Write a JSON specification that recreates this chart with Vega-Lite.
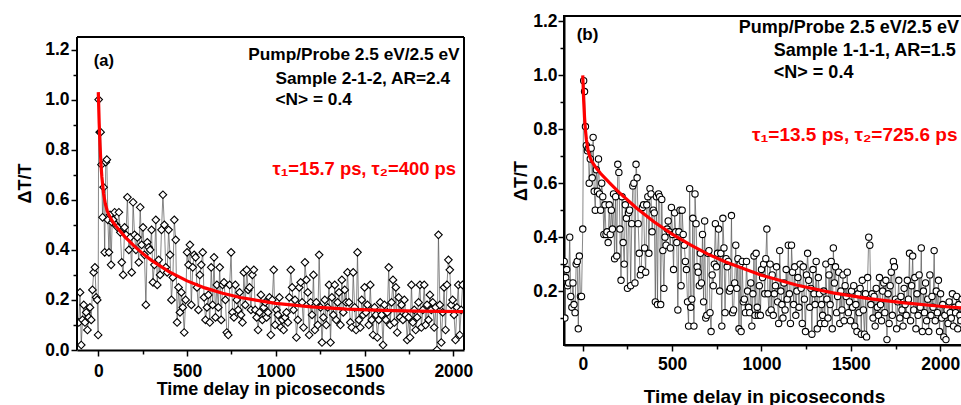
{
"$schema": "https://vega.github.io/schema/vega-lite/v6.json",
"padding": {"left": 16, "top": 11, "right": 0, "bottom": 0},
"spacing": 38,
"config": {
  "font": "Liberation Sans",
  "view": {"stroke": "#000", "strokeWidth": 2},
  "axis": {"domainColor": "#000", "domainWidth": 2, "tickColor": "#000", "tickWidth": 1.5, "labelFont": "Liberation Sans", "labelFontWeight": "bold", "labelFontSize": 17.5, "labelColor": "#000", "titleFont": "Liberation Sans", "titleFontWeight": "bold", "titleFontSize": 18, "titleColor": "#000", "grid": false, "labelFlush": false, "labelOverlap": false},
  "text": {"font": "Liberation Sans", "fontWeight": "bold"}
},
"datasets": {
  "a": [
{"t":-110,"v":0.11},{"t":-103,"v":0.23},{"t":-96,"v":0.02},{"t":-89,"v":0.12},{"t":-82,"v":0.18},{"t":-75,"v":0.11},{"t":-68,"v":0.15},{"t":-61,"v":0.08},{"t":-54,"v":0.13},{"t":-47,"v":0.17},{"t":-40,"v":0.12},{"t":-33,"v":0.24},{"t":-26,"v":0.31},{"t":-19,"v":0.33},{"t":-12,"v":0.21},{"t":-6,"v":0.20},{"t":-1,"v":0.06},{"t":2,"v":1.00},{"t":8,"v":0.87},{"t":13,"v":0.87},{"t":18,"v":0.74},{"t":24,"v":0.53},{"t":30,"v":0.65},{"t":36,"v":0.39},{"t":42,"v":0.75},{"t":48,"v":0.76},{"t":54,"v":0.52},{"t":60,"v":0.39},{"t":66,"v":0.54},{"t":72,"v":0.34},{"t":78,"v":0.51},{"t":84,"v":0.52},{"t":92,"v":0.55},{"t":100,"v":0.50},{"t":108,"v":0.49},{"t":116,"v":0.55},{"t":124,"v":0.47},{"t":132,"v":0.35},{"t":140,"v":0.30},{"t":148,"v":0.49},{"t":156,"v":0.46},{"t":164,"v":0.61},{"t":172,"v":0.40},{"t":180,"v":0.45},{"t":188,"v":0.31},{"t":196,"v":0.59},{"t":204,"v":0.46},{"t":212,"v":0.40},{"t":220,"v":0.45},{"t":228,"v":0.35},{"t":236,"v":0.57},{"t":244,"v":0.42},{"t":252,"v":0.49},{"t":260,"v":0.38},{"t":268,"v":0.18},{"t":276,"v":0.43},{"t":284,"v":0.41},{"t":292,"v":0.40},{"t":300,"v":0.48},{"t":308,"v":0.27},{"t":316,"v":0.34},{"t":324,"v":0.52},{"t":332,"v":0.26},{"t":340,"v":0.36},{"t":348,"v":0.30},{"t":356,"v":0.48},{"t":364,"v":0.62},{"t":372,"v":0.50},{"t":380,"v":0.33},{"t":388,"v":0.31},{"t":396,"v":0.48},{"t":404,"v":0.38},{"t":412,"v":0.20},{"t":420,"v":0.29},{"t":428,"v":0.52},{"t":436,"v":0.44},{"t":444,"v":0.11},{"t":452,"v":0.25},{"t":460,"v":0.15},{"t":468,"v":0.23},{"t":476,"v":0.17},{"t":484,"v":0.07},{"t":492,"v":0.20},{"t":500,"v":0.39},{"t":508,"v":0.34},{"t":516,"v":0.42},{"t":524,"v":0.18},{"t":532,"v":0.33},{"t":540,"v":0.38},{"t":548,"v":0.37},{"t":556,"v":0.25},{"t":564,"v":0.16},{"t":572,"v":0.30},{"t":580,"v":0.34},{"t":588,"v":0.39},{"t":596,"v":0.21},{"t":604,"v":0.12},{"t":612,"v":0.17},{"t":620,"v":0.22},{"t":628,"v":0.11},{"t":636,"v":0.33},{"t":644,"v":0.18},{"t":652,"v":0.37},{"t":660,"v":0.13},{"t":668,"v":0.26},{"t":676,"v":0.17},{"t":684,"v":0.33},{"t":692,"v":0.12},{"t":700,"v":0.26},{"t":708,"v":0.27},{"t":716,"v":0.20},{"t":724,"v":0.07},{"t":732,"v":0.06},{"t":740,"v":0.26},{"t":748,"v":0.39},{"t":756,"v":0.15},{"t":764,"v":0.13},{"t":772,"v":0.26},{"t":780,"v":0.20},{"t":788,"v":0.16},{"t":796,"v":0.23},{"t":804,"v":0.14},{"t":812,"v":0.11},{"t":820,"v":0.31},{"t":828,"v":0.18},{"t":836,"v":0.32},{"t":844,"v":0.24},{"t":852,"v":0.25},{"t":860,"v":0.16},{"t":868,"v":0.30},{"t":876,"v":0.32},{"t":884,"v":0.16},{"t":892,"v":0.13},{"t":900,"v":0.08},{"t":908,"v":0.15},{"t":916,"v":0.22},{"t":924,"v":0.12},{"t":932,"v":0.17},{"t":940,"v":0.19},{"t":948,"v":0.13},{"t":956,"v":0.15},{"t":964,"v":0.21},{"t":972,"v":0.06},{"t":980,"v":0.20},{"t":988,"v":0.32},{"t":996,"v":0.10},{"t":1004,"v":0.16},{"t":1012,"v":0.14},{"t":1020,"v":0.21},{"t":1028,"v":0.09},{"t":1036,"v":0.12},{"t":1044,"v":0.08},{"t":1052,"v":0.13},{"t":1060,"v":0.15},{"t":1068,"v":0.11},{"t":1076,"v":0.21},{"t":1084,"v":0.32},{"t":1092,"v":0.25},{"t":1100,"v":0.16},{"t":1108,"v":0.20},{"t":1116,"v":0.05},{"t":1124,"v":0.12},{"t":1132,"v":0.25},{"t":1140,"v":0.27},{"t":1148,"v":0.19},{"t":1156,"v":0.09},{"t":1164,"v":0.35},{"t":1172,"v":0.28},{"t":1180,"v":0.23},{"t":1188,"v":0.06},{"t":1196,"v":0.19},{"t":1204,"v":0.14},{"t":1212,"v":0.30},{"t":1220,"v":0.08},{"t":1228,"v":0.19},{"t":1236,"v":0.10},{"t":1244,"v":0.38},{"t":1252,"v":0.17},{"t":1260,"v":0.03},{"t":1268,"v":0.13},{"t":1276,"v":0.20},{"t":1284,"v":0.10},{"t":1292,"v":0.17},{"t":1300,"v":0.26},{"t":1308,"v":0.03},{"t":1316,"v":0.21},{"t":1324,"v":0.14},{"t":1332,"v":0.26},{"t":1340,"v":0.12},{"t":1348,"v":0.19},{"t":1356,"v":0.23},{"t":1364,"v":0.10},{"t":1372,"v":0.28},{"t":1380,"v":0.15},{"t":1388,"v":0.24},{"t":1396,"v":0.19},{"t":1404,"v":0.31},{"t":1412,"v":0.19},{"t":1420,"v":0.11},{"t":1428,"v":0.09},{"t":1436,"v":0.31},{"t":1444,"v":0.17},{"t":1452,"v":0.08},{"t":1460,"v":0.39},{"t":1468,"v":0.12},{"t":1476,"v":0.09},{"t":1484,"v":0.20},{"t":1492,"v":0.14},{"t":1500,"v":0.25},{"t":1508,"v":0.15},{"t":1516,"v":0.18},{"t":1524,"v":0.10},{"t":1532,"v":0.26},{"t":1540,"v":0.12},{"t":1548,"v":0.06},{"t":1556,"v":0.17},{"t":1564,"v":0.14},{"t":1572,"v":0.05},{"t":1580,"v":0.12},{"t":1588,"v":0.19},{"t":1596,"v":0.14},{"t":1604,"v":0.02},{"t":1612,"v":0.18},{"t":1620,"v":0.12},{"t":1628,"v":0.15},{"t":1636,"v":0.33},{"t":1644,"v":0.10},{"t":1652,"v":0.19},{"t":1660,"v":0.28},{"t":1668,"v":0.11},{"t":1676,"v":0.25},{"t":1684,"v":0.07},{"t":1692,"v":0.21},{"t":1700,"v":0.13},{"t":1708,"v":0.18},{"t":1716,"v":0.12},{"t":1724,"v":0.20},{"t":1732,"v":0.14},{"t":1740,"v":0.04},{"t":1748,"v":0.13},{"t":1756,"v":0.05},{"t":1764,"v":0.26},{"t":1772,"v":0.11},{"t":1780,"v":0.16},{"t":1788,"v":0.08},{"t":1796,"v":0.13},{"t":1804,"v":0.19},{"t":1812,"v":0.26},{"t":1820,"v":0.09},{"t":1828,"v":0.16},{"t":1836,"v":0.26},{"t":1844,"v":0.10},{"t":1852,"v":0.18},{"t":1860,"v":0.12},{"t":1868,"v":0.22},{"t":1876,"v":0.16},{"t":1884,"v":0.19},{"t":1892,"v":0.09},{"t":1900,"v":0.17},{"t":1908,"v":0.00},{"t":1916,"v":0.46},{"t":1924,"v":0.18},{"t":1932,"v":0.03},{"t":1940,"v":0.15},{"t":1948,"v":0.25},{"t":1956,"v":0.08},{"t":1964,"v":0.26},{"t":1972,"v":0.36},{"t":1980,"v":0.32},{"t":1988,"v":0.18},{"t":1996,"v":0.20},{"t":2004,"v":0.14},{"t":2012,"v":0.04},{"t":2020,"v":0.17},{"t":2028,"v":0.26},{"t":2036,"v":0.06},{"t":2044,"v":0.16},{"t":2052,"v":0.26}
  ],
  "afit": [
{"t":0,"v":1.03},{"t":5,"v":0.905},{"t":10,"v":0.812},{"t":15,"v":0.743},{"t":20,"v":0.691},{"t":30,"v":0.623},{"t":40,"v":0.582},{"t":50,"v":0.556},{"t":60,"v":0.539},{"t":80,"v":0.513},{"t":100,"v":0.494},{"t":150,"v":0.452},{"t":200,"v":0.417},{"t":250,"v":0.385},{"t":300,"v":0.358},{"t":400,"v":0.312},{"t":500,"v":0.276},{"t":600,"v":0.248},{"t":700,"v":0.2265},{"t":800,"v":0.2095},{"t":1000,"v":0.186},{"t":1200,"v":0.172},{"t":1400,"v":0.163},{"t":1600,"v":0.158},{"t":1800,"v":0.155},{"t":2060,"v":0.153}
  ],
  "b": [
{"t":-104,"v":0.31},{"t":-100,"v":0.10},{"t":-95,"v":0.25},{"t":-90,"v":0.28},{"t":-85,"v":0.22},{"t":-79,"v":0.23},{"t":-73,"v":0.40},{"t":-67,"v":0.18},{"t":-61,"v":0.14},{"t":-55,"v":0.23},{"t":-49,"v":0.15},{"t":-43,"v":0.12},{"t":-37,"v":0.30},{"t":-31,"v":0.31},{"t":-25,"v":0.06},{"t":-19,"v":0.33},{"t":-13,"v":0.18},{"t":-7,"v":0.18},{"t":0,"v":0.43},{"t":5,"v":0.98},{"t":10,"v":0.94},{"t":15,"v":0.81},{"t":20,"v":0.74},{"t":26,"v":0.72},{"t":31,"v":0.73},{"t":36,"v":0.60},{"t":42,"v":0.69},{"t":47,"v":0.73},{"t":53,"v":0.62},{"t":58,"v":0.77},{"t":64,"v":0.57},{"t":70,"v":0.50},{"t":76,"v":0.65},{"t":82,"v":0.57},{"t":88,"v":0.69},{"t":94,"v":0.56},{"t":100,"v":0.50},{"t":106,"v":0.60},{"t":112,"v":0.55},{"t":118,"v":0.41},{"t":124,"v":0.52},{"t":130,"v":0.41},{"t":136,"v":0.42},{"t":142,"v":0.38},{"t":148,"v":0.52},{"t":154,"v":0.41},{"t":160,"v":0.50},{"t":166,"v":0.43},{"t":172,"v":0.56},{"t":178,"v":0.32},{"t":184,"v":0.55},{"t":190,"v":0.33},{"t":196,"v":0.67},{"t":202,"v":0.64},{"t":208,"v":0.43},{"t":214,"v":0.24},{"t":220,"v":0.55},{"t":226,"v":0.38},{"t":232,"v":0.30},{"t":238,"v":0.52},{"t":244,"v":0.47},{"t":250,"v":0.21},{"t":256,"v":0.49},{"t":262,"v":0.50},{"t":268,"v":0.22},{"t":274,"v":0.45},{"t":280,"v":0.59},{"t":286,"v":0.60},{"t":292,"v":0.23},{"t":298,"v":0.67},{"t":304,"v":0.62},{"t":310,"v":0.45},{"t":316,"v":0.34},{"t":322,"v":0.26},{"t":328,"v":0.28},{"t":334,"v":0.51},{"t":340,"v":0.52},{"t":346,"v":0.36},{"t":352,"v":0.27},{"t":358,"v":0.52},{"t":364,"v":0.55},{"t":370,"v":0.34},{"t":376,"v":0.58},{"t":382,"v":0.56},{"t":388,"v":0.42},{"t":394,"v":0.50},{"t":400,"v":0.49},{"t":406,"v":0.16},{"t":412,"v":0.55},{"t":418,"v":0.15},{"t":424,"v":0.56},{"t":430,"v":0.55},{"t":436,"v":0.15},{"t":442,"v":0.54},{"t":448,"v":0.35},{"t":454,"v":0.21},{"t":460,"v":0.40},{"t":466,"v":0.37},{"t":472,"v":0.43},{"t":478,"v":0.46},{"t":484,"v":0.42},{"t":490,"v":0.36},{"t":496,"v":0.51},{"t":502,"v":0.41},{"t":508,"v":0.28},{"t":514,"v":0.49},{"t":520,"v":0.42},{"t":526,"v":0.38},{"t":532,"v":0.13},{"t":538,"v":0.42},{"t":544,"v":0.50},{"t":550,"v":0.22},{"t":556,"v":0.50},{"t":562,"v":0.41},{"t":568,"v":0.37},{"t":574,"v":0.31},{"t":580,"v":0.28},{"t":586,"v":0.16},{"t":592,"v":0.07},{"t":598,"v":0.58},{"t":604,"v":0.14},{"t":610,"v":0.17},{"t":616,"v":0.47},{"t":622,"v":0.07},{"t":628,"v":0.56},{"t":634,"v":0.45},{"t":640,"v":0.29},{"t":646,"v":0.27},{"t":652,"v":0.22},{"t":658,"v":0.34},{"t":664,"v":0.23},{"t":670,"v":0.41},{"t":676,"v":0.16},{"t":682,"v":0.46},{"t":688,"v":0.10},{"t":694,"v":0.11},{"t":700,"v":0.34},{"t":706,"v":0.35},{"t":712,"v":0.12},{"t":718,"v":0.05},{"t":724,"v":0.26},{"t":730,"v":0.22},{"t":736,"v":0.30},{"t":742,"v":0.45},{"t":748,"v":0.29},{"t":754,"v":0.34},{"t":760,"v":0.43},{"t":766,"v":0.20},{"t":772,"v":0.34},{"t":778,"v":0.07},{"t":784,"v":0.47},{"t":790,"v":0.36},{"t":796,"v":0.12},{"t":802,"v":0.32},{"t":808,"v":0.29},{"t":814,"v":0.31},{"t":820,"v":0.20},{"t":826,"v":0.21},{"t":832,"v":0.48},{"t":838,"v":0.12},{"t":844,"v":0.13},{"t":850,"v":0.23},{"t":856,"v":0.37},{"t":862,"v":0.21},{"t":868,"v":0.32},{"t":874,"v":0.06},{"t":880,"v":0.30},{"t":886,"v":0.05},{"t":892,"v":0.31},{"t":898,"v":0.16},{"t":904,"v":0.17},{"t":910,"v":0.12},{"t":916,"v":0.31},{"t":922,"v":0.20},{"t":928,"v":0.14},{"t":934,"v":0.12},{"t":940,"v":0.23},{"t":946,"v":0.07},{"t":952,"v":0.19},{"t":958,"v":0.33},{"t":964,"v":0.11},{"t":970,"v":0.34},{"t":976,"v":0.14},{"t":982,"v":0.11},{"t":988,"v":0.22},{"t":994,"v":0.11},{"t":1000,"v":0.28},{"t":1006,"v":0.25},{"t":1012,"v":0.30},{"t":1018,"v":0.19},{"t":1024,"v":0.32},{"t":1030,"v":0.43},{"t":1036,"v":0.19},{"t":1042,"v":0.12},{"t":1048,"v":0.30},{"t":1054,"v":0.13},{"t":1060,"v":0.26},{"t":1066,"v":0.11},{"t":1072,"v":0.19},{"t":1078,"v":0.22},{"t":1084,"v":0.29},{"t":1090,"v":0.16},{"t":1096,"v":0.08},{"t":1102,"v":0.35},{"t":1108,"v":0.20},{"t":1114,"v":0.15},{"t":1120,"v":0.10},{"t":1126,"v":0.23},{"t":1132,"v":0.13},{"t":1138,"v":0.28},{"t":1144,"v":0.17},{"t":1150,"v":0.37},{"t":1156,"v":0.19},{"t":1162,"v":0.08},{"t":1168,"v":0.37},{"t":1174,"v":0.27},{"t":1180,"v":0.15},{"t":1186,"v":0.29},{"t":1192,"v":0.11},{"t":1198,"v":0.20},{"t":1204,"v":0.25},{"t":1210,"v":0.14},{"t":1216,"v":0.30},{"t":1222,"v":0.21},{"t":1228,"v":0.08},{"t":1234,"v":0.29},{"t":1240,"v":0.17},{"t":1246,"v":0.05},{"t":1252,"v":0.26},{"t":1258,"v":0.34},{"t":1264,"v":0.24},{"t":1270,"v":0.14},{"t":1276,"v":0.21},{"t":1282,"v":0.04},{"t":1288,"v":0.28},{"t":1294,"v":0.19},{"t":1300,"v":0.15},{"t":1306,"v":0.31},{"t":1312,"v":0.06},{"t":1318,"v":0.25},{"t":1324,"v":0.19},{"t":1330,"v":0.08},{"t":1336,"v":0.15},{"t":1342,"v":0.11},{"t":1348,"v":0.20},{"t":1354,"v":0.08},{"t":1360,"v":0.30},{"t":1366,"v":0.17},{"t":1372,"v":0.10},{"t":1378,"v":0.26},{"t":1384,"v":0.15},{"t":1390,"v":0.31},{"t":1396,"v":0.06},{"t":1402,"v":0.36},{"t":1408,"v":0.23},{"t":1414,"v":0.29},{"t":1420,"v":0.12},{"t":1426,"v":0.18},{"t":1432,"v":0.27},{"t":1438,"v":0.08},{"t":1444,"v":0.20},{"t":1450,"v":0.13},{"t":1456,"v":0.26},{"t":1462,"v":0.09},{"t":1468,"v":0.22},{"t":1474,"v":0.18},{"t":1480,"v":0.27},{"t":1486,"v":0.12},{"t":1492,"v":0.16},{"t":1498,"v":0.09},{"t":1504,"v":0.20},{"t":1510,"v":0.14},{"t":1516,"v":0.22},{"t":1522,"v":0.07},{"t":1528,"v":0.15},{"t":1534,"v":0.05},{"t":1540,"v":0.19},{"t":1546,"v":0.12},{"t":1552,"v":0.21},{"t":1558,"v":0.04},{"t":1564,"v":0.24},{"t":1570,"v":0.13},{"t":1576,"v":0.04},{"t":1582,"v":0.19},{"t":1588,"v":0.03},{"t":1594,"v":0.25},{"t":1600,"v":0.40},{"t":1606,"v":0.37},{"t":1612,"v":0.15},{"t":1618,"v":0.19},{"t":1624,"v":0.10},{"t":1630,"v":0.18},{"t":1636,"v":0.07},{"t":1642,"v":0.21},{"t":1648,"v":0.14},{"t":1654,"v":0.11},{"t":1660,"v":0.25},{"t":1666,"v":0.15},{"t":1672,"v":0.09},{"t":1678,"v":0.20},{"t":1684,"v":0.23},{"t":1690,"v":0.12},{"t":1696,"v":0.24},{"t":1702,"v":0.02},{"t":1708,"v":0.19},{"t":1714,"v":0.08},{"t":1720,"v":0.22},{"t":1726,"v":0.27},{"t":1732,"v":0.11},{"t":1738,"v":0.31},{"t":1744,"v":0.29},{"t":1750,"v":0.17},{"t":1756,"v":0.06},{"t":1762,"v":0.16},{"t":1768,"v":0.24},{"t":1774,"v":0.10},{"t":1780,"v":0.18},{"t":1786,"v":0.13},{"t":1792,"v":0.07},{"t":1798,"v":0.21},{"t":1804,"v":0.15},{"t":1810,"v":0.11},{"t":1816,"v":0.24},{"t":1822,"v":0.17},{"t":1828,"v":0.34},{"t":1834,"v":0.09},{"t":1840,"v":0.22},{"t":1846,"v":0.33},{"t":1852,"v":0.13},{"t":1858,"v":0.25},{"t":1864,"v":0.06},{"t":1870,"v":0.19},{"t":1876,"v":0.11},{"t":1882,"v":0.26},{"t":1888,"v":0.14},{"t":1894,"v":0.36},{"t":1900,"v":0.05},{"t":1906,"v":0.20},{"t":1912,"v":0.12},{"t":1918,"v":0.23},{"t":1924,"v":0.09},{"t":1930,"v":0.17},{"t":1936,"v":0.05},{"t":1942,"v":0.26},{"t":1948,"v":0.11},{"t":1954,"v":0.18},{"t":1960,"v":0.14},{"t":1966,"v":0.35},{"t":1972,"v":0.09},{"t":1978,"v":0.20},{"t":1984,"v":0.12},{"t":1990,"v":0.24},{"t":1996,"v":0.05},{"t":2002,"v":0.19},{"t":2008,"v":0.10},{"t":2014,"v":0.15},{"t":2020,"v":0.03},{"t":2026,"v":0.11},{"t":2032,"v":0.02},{"t":2038,"v":0.13},{"t":2044,"v":0.08},{"t":2050,"v":0.16},{"t":2056,"v":0.12},{"t":2062,"v":0.10},{"t":2068,"v":0.19},{"t":2074,"v":0.07},{"t":2080,"v":0.14},{"t":2086,"v":0.12},{"t":2092,"v":0.18},{"t":2098,"v":0.06},{"t":2104,"v":0.15},{"t":2110,"v":0.11},{"t":2116,"v":0.09},{"t":2122,"v":0.17},{"t":2128,"v":0.13}
  ],
  "bfit": [
{"t":0,"v":1.0},{"t":5,"v":0.908},{"t":10,"v":0.843},{"t":15,"v":0.797},{"t":20,"v":0.763},{"t":30,"v":0.721},{"t":40,"v":0.697},{"t":50,"v":0.681},{"t":70,"v":0.661},{"t":100,"v":0.636},{"t":150,"v":0.601},{"t":200,"v":0.568},{"t":300,"v":0.508},{"t":400,"v":0.456},{"t":500,"v":0.411},{"t":600,"v":0.372},{"t":700,"v":0.337},{"t":800,"v":0.3075},{"t":1000,"v":0.259},{"t":1200,"v":0.2215},{"t":1400,"v":0.1935},{"t":1600,"v":0.172},{"t":1800,"v":0.156},{"t":2000,"v":0.1437},{"t":2133,"v":0.137}
  ]
},
"hconcat": [
  {
    "width": 387, "height": 334,
    "view": {"stroke": null},
    "encoding": {
      "x": {"type": "quantitative", "scale": {"domain": [-120, 2060], "nice": false, "zero": false},
        "axis": {"title": "Time delay in picoseconds", "values": [0,250,500,750,1000,1250,1500,1750,2000], "format": "d",
          "labelExpr": "datum.value % 500 == 0 ? datum.label : ''",
          "tickSize": {"condition": {"test": "datum.value % 500 != 0", "value": 4}, "value": 6},
          "labelPadding": 6, "titlePadding": 1}},
      "y": {"type": "quantitative", "scale": {"domain": [0, 1.3339], "nice": false, "zero": false},
        "axis": {"title": "ΔT/T", "domain": false, "values": [0,0.1,0.2,0.3,0.4,0.5,0.6,0.7,0.8,0.9,1.0,1.1,1.2], "format": ".1f",
          "labelExpr": "round(datum.value*10) % 2 == 1 ? '' : datum.label",
          "tickSize": {"condition": {"test": "round(datum.value*10) % 2 == 1", "value": 4}, "value": 6},
          "labelPadding": 2, "titlePadding": 10}}
    },
    "layer": [
      {"data": {"name": "a"}, "mark": {"type": "line", "color": "#555", "strokeWidth": 0.7, "clip": true},
       "encoding": {"x": {"field": "t"}, "y": {"field": "v"}}},
      {"data": {"name": "a"}, "mark": {"type": "point", "shape": "diamond", "size": 58, "filled": true, "fill": "#fff", "stroke": "#000", "strokeWidth": 1.1, "opacity": 1, "clip": true},
       "encoding": {"x": {"field": "t"}, "y": {"field": "v"}}},
      {"data": {"name": "afit"}, "mark": {"type": "line", "color": "#ff0000", "strokeWidth": 3.2, "clip": true},
       "encoding": {"x": {"field": "t"}, "y": {"field": "v"}}},
      {"data": {"values": [{}]}, "mark": {"type": "rule", "color": "#000", "strokeWidth": 2},
       "encoding": {"x": {"datum": -120}, "y": {"datum": 0}, "y2": {"datum": 1.25}}},
      {"data": {"values": [{}]}, "mark": {"type": "rule", "color": "#000", "strokeWidth": 2},
       "encoding": {"x": {"datum": 2060}, "y": {"datum": 0}, "y2": {"datum": 1.25}}},
      {"data": {"values": [{}]}, "mark": {"type": "rule", "color": "#000", "strokeWidth": 2},
       "encoding": {"y": {"datum": 1.25}, "x": {"datum": -120}, "x2": {"datum": 2060}}},
      {"data": {"values": [{}]}, "mark": {"type": "text", "align": "left", "baseline": "middle", "fontSize": 16.5},
       "encoding": {"x": {"datum": -25}, "y": {"datum": 1.155}, "text": {"value": "(a)"}}},
      {"data": {"values": [{}]}, "mark": {"type": "text", "align": "right", "baseline": "middle", "fontSize": 17.3},
       "encoding": {"x": {"datum": 2035}, "y": {"datum": 1.18}, "text": {"value": "Pump/Probe 2.5 eV/2.5 eV"}}},
      {"data": {"values": [{}]}, "mark": {"type": "text", "align": "left", "baseline": "middle", "fontSize": 17.3},
       "encoding": {"x": {"datum": 998}, "y": {"datum": 1.083}, "text": {"value": "Sample 2-1-2, AR=2.4"}}},
      {"data": {"values": [{}]}, "mark": {"type": "text", "align": "left", "baseline": "middle", "fontSize": 17.3},
       "encoding": {"x": {"datum": 998}, "y": {"datum": 0.997}, "text": {"value": "<N> = 0.4"}}},
      {"data": {"values": [{}]}, "mark": {"type": "text", "align": "left", "baseline": "middle", "fontSize": 18.4, "color": "#ff0000"},
       "encoding": {"x": {"datum": 981}, "y": {"datum": 0.722}, "text": {"value": "τ₁=15.7 ps,  τ₂=400 ps"}}}
    ]
  },
  {
    "width": 400, "height": 329,
    "encoding": {
      "x": {"type": "quantitative", "scale": {"domain": [-105, 2133], "nice": false, "zero": false},
        "axis": {"title": "Time delay in picoseconds", "values": [0,250,500,750,1000,1250,1500,1750,2000], "format": "d",
          "labelExpr": "datum.value % 500 == 0 ? datum.label : ''",
          "tickSize": {"condition": {"test": "datum.value % 500 != 0", "value": 4}, "value": 6},
          "labelPadding": 4, "titlePadding": 15, "titleFontSize": 19}},
      "y": {"type": "quantitative", "scale": {"domain": [0, 1.22], "nice": false, "zero": false},
        "axis": {"title": "ΔT/T", "values": [0.1,0.2,0.3,0.4,0.5,0.6,0.7,0.8,0.9,1.0,1.1,1.2], "format": ".1f",
          "labelExpr": "round(datum.value*10) % 2 == 1 ? '' : datum.label",
          "tickSize": {"condition": {"test": "round(datum.value*10) % 2 == 1", "value": 4}, "value": 6},
          "labelPadding": 1, "titlePadding": 2}}
    },
    "layer": [
      {"data": {"name": "b"}, "mark": {"type": "line", "color": "#555", "strokeWidth": 0.7, "clip": true},
       "encoding": {"x": {"field": "t"}, "y": {"field": "v"}}},
      {"data": {"name": "b"}, "mark": {"type": "point", "shape": "circle", "size": 40, "filled": true, "fill": "#fff", "stroke": "#000", "strokeWidth": 1.1, "opacity": 1, "clip": true},
       "encoding": {"x": {"field": "t"}, "y": {"field": "v"}}},
      {"data": {"name": "bfit"}, "mark": {"type": "line", "color": "#ff0000", "strokeWidth": 3.2, "clip": true},
       "encoding": {"x": {"field": "t"}, "y": {"field": "v"}}},
      {"data": {"values": [{}]}, "mark": {"type": "text", "align": "left", "baseline": "middle", "fontSize": 17},
       "encoding": {"x": {"datum": -34}, "y": {"datum": 1.151}, "text": {"value": "(b)"}}},
      {"data": {"values": [{}]}, "mark": {"type": "text", "align": "left", "baseline": "middle", "fontSize": 18},
       "encoding": {"x": {"datum": 873}, "y": {"datum": 1.175}, "text": {"value": "Pump/Probe 2.5 eV/2.5 eV"}}},
      {"data": {"values": [{}]}, "mark": {"type": "text", "align": "left", "baseline": "middle", "fontSize": 18},
       "encoding": {"x": {"datum": 1069}, "y": {"datum": 1.091}, "text": {"value": "Sample 1-1-1, AR=1.5"}}},
      {"data": {"values": [{}]}, "mark": {"type": "text", "align": "left", "baseline": "middle", "fontSize": 18},
       "encoding": {"x": {"datum": 1069}, "y": {"datum": 1.009}, "text": {"value": "<N> = 0.4"}}},
      {"data": {"values": [{}]}, "mark": {"type": "text", "align": "left", "baseline": "middle", "fontSize": 19, "color": "#ff0000"},
       "encoding": {"x": {"datum": 947}, "y": {"datum": 0.78}, "text": {"value": "τ₁=13.5 ps,  τ₂=725.6 ps"}}}
    ]
  }
]
}
